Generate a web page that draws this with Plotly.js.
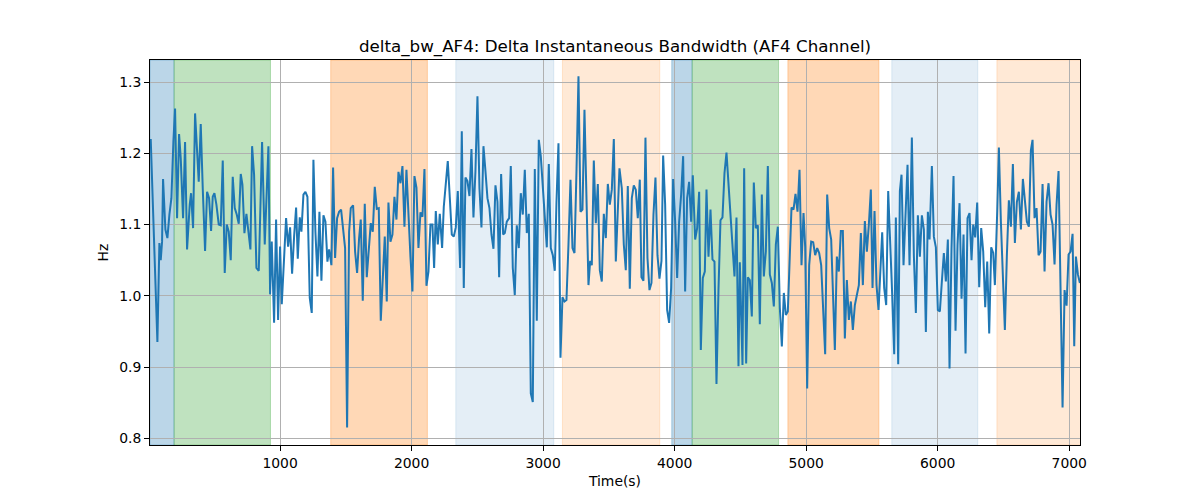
<!DOCTYPE html>
<html>
<head>
<meta charset="utf-8">
<script src="https://cdn.plot.ly/plotly-3.0.1.min.js"></script>
<style>
  body { margin: 0; background: #fff; }
  #chart { width: 1200px; height: 500px; }
</style>
</head>
<body>
<div id="chart"></div>
<script>
// values
var timeS = [16.5, 67.2, 82.4, 92.6, 102.7, 110.3, 128.1, 143.3, 158.5, 173.7, 188.9, 201.6, 216.8, 232.0, 244.7, 262.4, 277.6, 292.8, 313.1, 323.3, 338.5, 353.7, 381.6, 396.8, 412.0, 429.7, 444.9, 460.2, 475.4, 488.0, 500.7, 515.9, 533.7, 548.9, 564.1, 579.3, 594.5, 609.7, 624.9, 640.1, 655.4, 670.6, 685.8, 701.0, 713.7, 728.9, 744.1, 759.3, 774.5, 787.2, 802.4, 820.1, 837.9, 863.2, 883.5, 911.4, 924.1, 936.7, 954.5, 969.7, 984.9, 1000.1, 1012.8, 1045.7, 1061.0, 1076.2, 1091.4, 1106.6, 1121.8, 1134.5, 1149.7, 1162.3, 1177.6, 1192.8, 1208.0, 1225.7,
  1240.9, 1253.5, 1268.7, 1284.0, 1299.2, 1314.4, 1329.6, 1344.8, 1360.0, 1372.7, 1390.4, 1403.1, 1418.3, 1433.5, 1448.7, 1463.9, 1494.4, 1509.6, 1524.8, 1537.5, 1555.2, 1570.4, 1585.6, 1600.8, 1613.5, 1628.7, 1643.9, 1659.1, 1674.4, 1689.6, 1704.8, 1720.0, 1735.2, 1750.4, 1765.6, 1780.8, 1796.0, 1811.2, 1823.9, 1839.1, 1854.3, 1869.5, 1884.8, 1900.0, 1915.2, 1930.4, 1945.6, 1960.8, 1976.0, 1991.2, 2006.4, 2021.6, 2036.9, 2052.1, 2067.3, 2082.5, 2097.7, 2112.9, 2128.1, 2143.3, 2158.5, 2171.2, 2183.9, 2199.1, 2214.3, 2232.0, 2244.7, 2259.9, 2275.1, 2290.4, 2305.6, 2320.8, 2336.0, 2351.2, 2368.9, 2381.6, 2396.8,
  2409.4, 2424.6, 2439.8, 2455.1, 2470.3, 2485.5, 2500.7, 2515.9, 2531.1, 2546.3, 2561.5, 2576.7, 2591.9, 2607.2, 2622.4, 2637.6, 2652.8, 2665.5, 2680.7, 2695.9, 2708.6, 2723.8, 2741.5, 2754.2, 2769.4, 2784.6, 2799.8, 2815.0, 2830.2, 2845.4, 2860.7, 2875.9, 2891.1, 2906.3, 2921.5, 2936.7, 2951.9, 2967.1, 2982.3, 2997.5, 3012.8, 3028.0, 3043.2, 3058.4, 3073.6, 3088.8, 3101.5, 3116.7, 3131.9, 3147.1, 3162.3, 3177.5, 3192.7, 3208.0, 3223.2, 3238.4, 3253.6, 3268.8, 3284.0, 3299.2, 3314.4, 3329.6, 3344.8, 3357.5, 3370.2, 3385.4, 3400.6, 3415.8, 3431.0, 3446.2, 3461.4, 3476.7, 3491.9, 3507.1, 3522.3, 3537.5, 3552.7, 3580.5,
  3598.2, 3613.4, 3628.6, 3643.8, 3659.0, 3674.2, 3689.4, 3704.6, 3719.8, 3735.0, 3747.7, 3762.9, 3778.1, 3793.4, 3808.6, 3823.8, 3839.0, 3854.2, 3869.4, 3884.6, 3899.8, 3912.5, 3927.7, 3942.9, 3958.1, 3973.3, 3988.5, 4003.8, 4019.0, 4034.2, 4049.4, 4064.6, 4079.8, 4095.0, 4110.2, 4125.4, 4138.1, 4155.9, 4171.1, 4186.3, 4199.0, 4214.2, 4229.4, 4242.1, 4257.3, 4272.5, 4287.7, 4302.9, 4318.1, 4333.3, 4348.5, 4363.7, 4378.9, 4394.1, 4409.4, 4424.6, 4439.8, 4455.0, 4470.2, 4485.4, 4495.5, 4515.8, 4528.5, 4543.7, 4556.4, 4571.6, 4586.8, 4602.0, 4617.2, 4632.4, 4647.7, 4662.9, 4678.1, 4693.3, 4708.5, 4723.7, 4738.9, 4754.1,
  4769.4, 4784.6, 4799.8, 4815.0, 4830.2, 4845.4, 4860.6, 4875.8, 4888.5, 4903.7, 4918.9, 4934.1, 4949.3, 4964.6, 4979.8, 4992.4, 5007.6, 5022.9, 5038.1, 5053.3, 5068.5, 5083.7, 5098.9, 5114.1, 5129.3, 5144.5, 5159.7, 5175.0, 5190.2, 5205.4, 5218.1, 5233.3, 5248.5, 5263.7, 5278.9, 5294.1, 5309.3, 5324.5, 5339.7, 5354.9, 5370.2, 5385.4, 5400.6, 5415.8, 5431.0, 5446.2, 5461.4, 5476.6, 5491.8, 5504.5, 5519.7, 5534.9, 5550.1, 5578.0, 5593.2, 5608.4, 5623.7, 5654.1, 5669.3, 5681.9, 5699.7, 5712.4, 5725.0, 5740.2, 5755.4, 5770.7, 5785.9, 5803.6, 5818.8, 5834.0, 5849.2, 5864.5, 5879.7, 5894.9, 5910.1, 5925.3, 5938.0,
  5955.7, 5970.9, 5986.1, 6001.3, 6016.5, 6031.7, 6046.9, 6062.1, 6077.3, 6090.0, 6105.2, 6120.4, 6135.6, 6150.9, 6166.1, 6181.3, 6196.5, 6211.7, 6226.9, 6242.1, 6257.3, 6270.0, 6285.2, 6300.4, 6315.6, 6330.8, 6346.1, 6361.3, 6376.5, 6391.7, 6406.9, 6422.1, 6434.8, 6452.5, 6465.2, 6480.4, 6495.6, 6510.8, 6526.0, 6541.2, 6556.5, 6571.7, 6586.9, 6602.1, 6617.3, 6632.5, 6647.7, 6662.9, 6678.1, 6693.3, 6708.5, 6721.2, 6736.4, 6751.6, 6766.9, 6782.1, 6797.3, 6812.5, 6827.7, 6842.9, 6858.1, 6873.3, 6888.5, 6903.7, 6918.9, 6949.4, 6964.6, 6979.8, 6995.0, 7010.2, 7025.5, 7038.1, 7050.8, 7066.0, 7081.2];

var deltaBw = [1.220, 0.935, 1.074, 1.050, 1.076, 1.164, 1.093, 1.081, 1.114, 1.137, 1.217, 1.263, 1.109, 1.227, 1.193, 1.109, 1.216, 1.065, 1.128, 1.144, 1.095, 1.256, 1.160, 1.241, 1.151, 1.063, 1.146, 1.137, 1.091, 1.139, 1.144, 1.128, 1.100, 1.099, 1.190, 1.032, 1.100, 1.090, 1.050, 1.167, 1.123, 1.114, 1.101, 1.171, 1.156, 1.088, 1.115, 1.090, 1.065, 1.210, 1.170, 1.039, 1.035, 1.216, 1.072, 1.210, 1.002, 1.076, 0.962, 1.107, 0.966, 1.069, 0.988, 1.109, 1.069, 1.096, 1.031, 1.083, 1.124, 1.052, 1.110, 1.090, 1.142, 1.146, 1.139, 0.997,
  0.976, 1.191, 1.090, 1.027, 1.118, 1.021, 1.113, 1.104, 1.048, 1.065, 1.043, 1.180, 1.053, 1.109, 1.118, 1.121, 1.067, 0.815, 1.090, 1.123, 1.127, 1.062, 1.032, 1.081, 1.107, 0.993, 1.129, 1.026, 1.062, 1.102, 1.090, 1.153, 1.122, 1.123, 0.965, 1.035, 1.083, 0.992, 1.131, 1.076, 1.086, 1.139, 1.107, 1.174, 1.158, 1.182, 1.097, 1.177, 1.109, 1.055, 1.006, 1.168, 1.152, 1.067, 1.117, 1.111, 1.178, 1.014, 1.034, 1.100, 1.100, 1.039, 1.119, 1.072, 1.115, 1.067, 1.125, 1.160, 1.189, 1.138, 1.086, 1.083, 1.096, 1.147, 1.039, 1.231, 1.011,
  1.166, 1.161, 1.140, 1.206, 1.110, 1.175, 1.280, 1.151, 1.096, 1.210, 1.175, 1.137, 1.123, 1.086, 1.066, 1.155, 1.132, 1.026, 1.171, 1.086, 1.088, 1.104, 1.109, 1.182, 1.039, 1.001, 1.099, 1.067, 1.144, 1.114, 1.177, 1.088, 1.115, 0.863, 0.851, 1.178, 0.965, 1.219, 1.196, 1.151, 1.109, 1.068, 1.185, 1.067, 1.057, 1.035, 1.132, 1.214, 0.913, 0.998, 0.992, 0.994, 1.072, 1.163, 1.067, 1.060, 1.175, 1.308, 1.118, 1.121, 1.261, 1.118, 1.015, 1.049, 1.043, 1.190, 1.102, 1.157, 1.036, 1.020, 1.115, 1.081, 1.157, 1.128, 1.149, 1.220, 1.048, 1.179,
  1.151, 1.072, 1.036, 1.154, 1.010, 1.137, 1.155, 1.149, 1.109, 1.163, 1.026, 1.021, 1.222, 1.053, 1.008, 1.018, 1.114, 1.166, 1.057, 1.024, 1.049, 1.197, 1.128, 0.980, 0.962, 1.011, 1.164, 1.104, 1.025, 1.104, 1.142, 1.196, 1.006, 1.137, 1.160, 1.104, 1.169, 1.079, 1.095, 1.146, 0.924, 1.025, 1.034, 1.149, 1.055, 1.121, 1.051, 1.048, 0.876, 1.008, 1.106, 1.110, 1.172, 1.201, 1.160, 1.107, 1.067, 1.027, 1.110, 0.901, 1.047, 0.903, 1.179, 0.905, 1.026, 1.022, 0.971, 1.159, 1.095, 1.099, 0.960, 1.142, 1.027, 1.062, 1.182, 1.030, 1.018, 0.985,
  1.072, 1.097, 0.983, 0.929, 1.004, 0.973, 0.978, 1.067, 1.124, 1.121, 1.143, 1.118, 1.177, 1.043, 1.116, 1.069, 0.870, 1.043, 1.076, 1.075, 1.057, 1.067, 1.060, 1.043, 0.990, 0.918, 1.142, 1.095, 1.079, 1.001, 0.924, 1.055, 1.034, 1.091, 1.091, 0.940, 1.022, 0.966, 0.992, 0.952, 0.987, 1.001, 1.015, 1.088, 1.015, 1.105, 1.062, 1.100, 1.149, 1.011, 1.119, 1.015, 0.980, 1.089, 1.011, 0.987, 1.147, 1.001, 0.918, 1.110, 0.904, 1.147, 1.170, 1.043, 1.125, 1.184, 1.043, 1.222, 1.057, 0.976, 1.113, 1.055, 1.113, 1.093, 0.949, 1.118, 1.079,
  1.182, 1.083, 1.068, 0.980, 0.978, 1.020, 1.060, 1.020, 1.079, 0.898, 1.067, 1.168, 0.951, 1.072, 1.130, 0.996, 1.086, 0.919, 1.109, 1.116, 1.050, 1.100, 1.082, 1.131, 1.012, 1.095, 1.062, 0.984, 1.048, 0.947, 1.068, 1.060, 1.015, 1.118, 1.208, 1.104, 1.015, 0.952, 1.057, 1.134, 1.097, 1.185, 1.074, 1.132, 1.146, 1.093, 1.164, 1.137, 1.104, 1.097, 1.204, 1.219, 1.109, 1.123, 1.057, 1.062, 1.157, 1.034, 1.132, 1.158, 1.114, 1.100, 1.044, 1.128, 1.175, 0.843, 1.008, 0.986, 1.058, 1.062, 1.087, 0.929, 1.055, 1.030, 1.018];

// shaded segments
var regionStart = [11, 194, 1385, 2336, 3147, 3978, 4133, 4861, 5651, 6450];
var regionEnd = [194, 927, 2120, 3081, 3887, 4133, 4790, 5553, 6305, 7090];
var regionColor = ['rgba(31,119,180,0.3)', 'rgba(44,160,44,0.3)', 'rgba(255,127,14,0.3)', 'rgba(31,119,180,0.12)', 'rgba(255,127,14,0.17)',
  'rgba(31,119,180,0.3)', 'rgba(44,160,44,0.3)', 'rgba(255,127,14,0.3)', 'rgba(31,119,180,0.12)', 'rgba(255,127,14,0.17)'];

var xTicks = [1000, 2000, 3000, 4000, 5000, 6000, 7000];
var yTicks = [0.8, 0.9, 1.0, 1.1, 1.2, 1.3];

var shapes = regionStart.map(function (s, i) {
  return {
    type: 'rect', xref: 'x', yref: 'paper', x0: s, x1: regionEnd[i], y0: 0, y1: 1,
    fillcolor: regionColor[i], line: {color: regionColor[i], width: 1}, layer: 'below'
  };
});

var data = [{
  x: timeS,
  y: deltaBw,
  type: 'scatter',
  mode: 'lines',
  line: {color: '#1f77b4', width: 2},
  hoverinfo: 'none'
}];

var font = {family: 'DejaVu Sans, sans-serif', size: 13.9, color: '#000'};

var layout = {
  width: 1200,
  height: 500,
  margin: {l: 150, r: 120, t: 60, b: 55},
  paper_bgcolor: '#fff',
  plot_bgcolor: '#fff',
  font: font,
  showlegend: false,
  title: {
    text: 'delta_bw_AF4: Delta Instantaneous Bandwidth (AF4 Channel)',
    font: {family: 'DejaVu Sans, sans-serif', size: 16.7, color: '#000'},
    x: 0.5, xref: 'paper', xanchor: 'center',
    y: 1 - 46 / 500, yref: 'container', yanchor: 'middle'
  },
  xaxis: {
    range: [11, 7082],
    tickvals: xTicks,
    ticks: 'outside', ticklen: 5, tickwidth: 1, tickcolor: '#000',
    showline: true, mirror: true, linecolor: '#000', linewidth: 1,
    showgrid: true, gridcolor: '#b0b0b0', gridwidth: 1,
    zeroline: false,
    tickfont: font,
    title: {text: 'Time(s)', font: font, standoff: 6}
  },
  yaxis: {
    range: [0.7905, 1.331],
    tickvals: yTicks,
    tickformat: '.1f',
    ticks: 'outside', ticklen: 5, tickwidth: 1, tickcolor: '#000',
    showline: true, mirror: true, linecolor: '#000', linewidth: 1,
    showgrid: true, gridcolor: '#b0b0b0', gridwidth: 1,
    zeroline: false,
    tickfont: font,
    title: {text: 'Hz', font: font, standoff: 7}
  },
  shapes: shapes
};

Plotly.newPlot('chart', data, layout, {staticPlot: true});
</script>
</body>
</html>
